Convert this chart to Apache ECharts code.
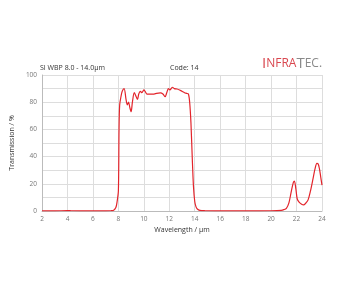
<!DOCTYPE html>
<html><head><meta charset="utf-8">
<script src="https://cdn.jsdelivr.net/npm/echarts@6/dist/echarts.min.js"></script>
<style>html,body{margin:0;padding:0;background:#fff}#c{width:344px;height:287px}</style>
</head><body><div id="c"></div>
<script>
const wavelength = [2,3,4,4.3,5,6,7,7.4,7.6,7.8,7.9,8.0,8.05,8.1,8.2,8.3,8.45,8.6,8.7,8.8,8.9,9.0,9.1,9.25,9.4,9.5,9.6,9.72,9.85,10.0,10.1,10.25,10.5,10.8,11.0,11.3,11.5,11.67,11.8,11.93,12.05,12.24,12.4,12.6,12.8,13.0,13.2,13.35,13.5,13.6,13.7,13.8,13.9,14.0,14.1,14.2,14.4,14.8,16,18,20,20.8,21.0,21.2,21.4,21.6,21.75,21.83,21.95,22.05,22.2,22.4,22.55,22.7,22.9,23.1,23.3,23.45,23.6,23.7,23.8,23.9,24.0];
const transmission = [0.1,0.1,0.3,0.2,0.1,0.1,0.1,0.2,0.4,2.5,7,15,60,78,84,88,90,82,78,80,76,73,80,87,84,82,86,88,87,89,88,86,86,86,86.5,86.8,86,84,87,90,89,91,90,89.7,89,88,87,86.5,86,80,65,40,18,7,3,1.5,0.5,0.2,0.1,0.1,0.2,0.5,1,2,6,15,21,22,16,9,6.5,5,4.5,5.5,8,15,24,31,35,34.5,31,25,19];
const xTicks = [2,24,2];
const yTicks = [0,100,10];
const titleLeft = 'SI WBP 8.0 - 14.0µm';
const titleCode = 'Code: 14';

const font = '"Open Sans", "Liberation Sans", sans-serif';
const chart = echarts.init(document.getElementById('c'), null, {renderer:'canvas'});
chart.setOption({
  animation:false,
  backgroundColor:'#fff',
  graphic:[
    {type:'text', left:40, top:64, style:{text:titleLeft, fontSize:7, fill:'#333', fontFamily:font}},
    {type:'text', left:170, top:64, style:{text:titleCode, fontSize:7, fill:'#333', fontFamily:font}},
    {type:'text', left:262, top:56, style:{
      text:'{r|I}{rs|NFRA}{g|T}{gs|EC.}',
      fontFamily:font,
      rich:{
        r:{fontSize:15, fill:'#d9474f', fontFamily:font},
        rs:{fontSize:12, fill:'#d9474f', fontFamily:font},
        g:{fontSize:15, fill:'#8a8a8a', fontFamily:font},
        gs:{fontSize:12, fill:'#8a8a8a', fontFamily:font}
      }
    }}
  ],
  grid:{left:39, right:22, top:75, bottom:76, containLabel:false},
  xAxis:{
    type:'value', min:xTicks[0], max:xTicks[1], interval:xTicks[2],
    name:'Wavelength / µm', nameLocation:'middle', nameGap:15,
    nameTextStyle:{fontSize:7, color:'#333', fontFamily:font},
    axisLine:{show:true, lineStyle:{color:'#bbb', width:1}},
    axisTick:{show:false},
    axisLabel:{fontSize:6.5, color:'#777', margin:5, fontFamily:font},
    splitLine:{show:true, lineStyle:{color:'#ddd', width:1}}
  },
  yAxis:{
    type:'value', min:yTicks[0], max:yTicks[1], interval:yTicks[2],
    name:'Transmission / %', nameLocation:'middle', nameGap:17, nameRotate:90,
    nameTextStyle:{fontSize:7, color:'#333', fontFamily:font},
    axisLine:{show:true, lineStyle:{color:'#bbb', width:1}},
    axisTick:{show:false},
    axisLabel:{fontSize:6.5, color:'#777', margin:5, fontFamily:font,
      formatter:function(v){return v%20===0?String(v):'';}},
    splitLine:{show:true, lineStyle:{color:'#ddd', width:1}}
  },
  series:[{
    type:'line', data:wavelength.map((w,i)=>[w,transmission[i]]),
    showSymbol:false, smooth:0.3,
    lineStyle:{color:'#e3242b', width:1.2},
    itemStyle:{color:'#e3242b'}
  }]
});
</script></body></html>
